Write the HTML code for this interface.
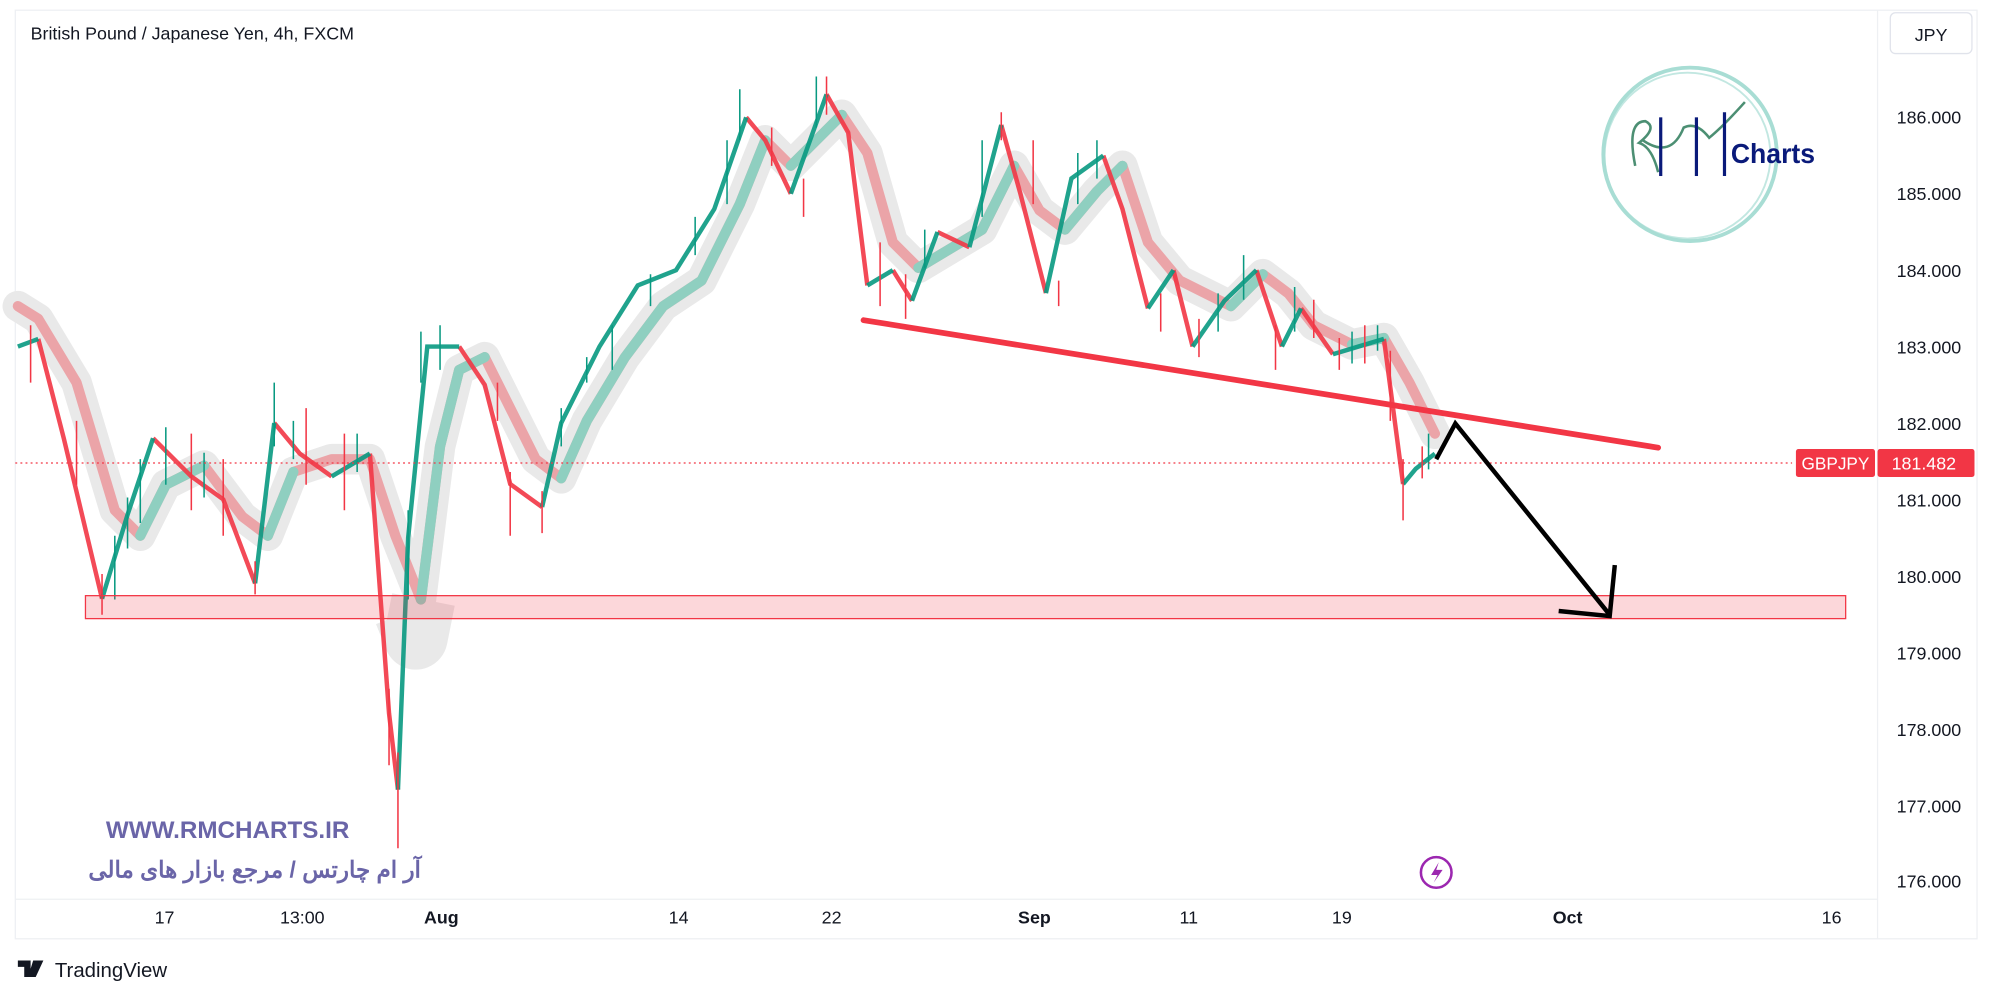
<!DOCTYPE html>
<html><head><meta charset="utf-8"><style>
html,body{margin:0;padding:0;background:#fff;width:2000px;height:1000px;overflow:hidden}
svg{display:block}
text{font-family:"Liberation Sans",sans-serif}
</style></head><body>
<svg width="2000" height="1000" viewBox="0 0 1568 784" xmlns="http://www.w3.org/2000/svg">
<rect x="0" y="0" width="1568" height="784" fill="#fff"/>
<rect x="12" y="8" width="1538" height="728" fill="#fff" stroke="#eef0f3" stroke-width="1"/>
<line x1="1472" y1="8" x2="1472" y2="736" stroke="#eef0f3"/>
<line x1="12" y1="705" x2="1472" y2="705" stroke="#eef0f3"/>
<!-- MA band -->
<polyline fill="none" stroke="#e9e9e9" stroke-width="24" stroke-linejoin="round" stroke-linecap="round" points="14,240 30,250 60,300 90,400 110,420 130,380 160,365 190,405 210,420 230,370 260,360 290,360 310,420 330,470 345,350 360,290 380,280 400,320 420,360 440,375 460,330 490,280 520,240 550,220 580,160 600,110 620,130 640,110 660,90 680,120 700,190 720,210 745,195 770,180 795,130 815,165 835,180 860,150 880,130 900,190 925,220 945,230 965,240 990,215 1010,230 1030,255 1060,270 1085,265 1105,300 1125,340"/>
<polyline fill="none" stroke="#e9e9e9" stroke-width="50" stroke-linejoin="round" points="318,480 326,500 332,470"/>
<!-- MA line -->
<polyline fill="none" stroke="#eba4a8" stroke-width="8" stroke-linejoin="round" stroke-linecap="round" points="14,240 30,250 60,300 90,400 110,420 130,380 160,365 190,405 210,420 230,370 260,360 290,360 310,420 330,470 345,350 360,290 380,280 400,320 420,360 440,375 460,330 490,280 520,240 550,220 580,160 600,110 620,130 640,110 660,90 680,120 700,190 720,210 745,195 770,180 795,130 815,165 835,180 860,150 880,130 900,190 925,220 945,230 965,240 990,215 1010,230 1030,255 1060,270 1085,265 1105,300 1125,340"/>
<g fill="none" stroke="#8fcfc0" stroke-width="8" stroke-linejoin="round" stroke-linecap="round">
<polyline points="110,420 130,380 160,365"/>
<polyline points="210,420 230,370"/>
<polyline points="330,470 345,350 360,290 380,280"/>
<polyline points="440,375 460,330 490,280 520,240 550,220 580,160 600,110"/>
<polyline points="620,130 640,110 660,90"/>
<polyline points="720,210 745,195 770,180 795,130"/>
<polyline points="835,180 860,150 880,130"/>
<polyline points="965,240 990,215"/>
<polyline points="1060,270 1085,265"/>
</g>
<!-- price (candles approximation) -->
<g stroke-linecap="butt" fill="none">
<path stroke="#f23645" stroke-width="3.5" opacity="0.9" d="M30,265.7L50,343.6L80,469.4 M120,343.6L150,373.5L175,391.5L200,457.4 M215,331.6L235,355.6L260,373.5 M290,355.6L305,559.2L312,619.1 M360,271.7L380,301.7L400,379.5L425,397.5 M585,92L600,110L620,151.9 M648,74L665,104L680,223.8 M700,211.8L715,235.8 M735,181.9L760,193.8 M785,98L800,151.9L820,229.8 M865,122L880,163.9L900,241.8 M920,211.8L935,271.7 M985,211.8L1005,271.7 M1020,241.8L1045,277.7 M1085,265.7L1100,379.5"/>
<path stroke="#089981" stroke-width="3.5" opacity="0.9" d="M14,271.7L30,265.7 M80,469.4L100,403.5L120,343.6 M200,457.4L215,331.6 M260,373.5L290,355.6 M312,619.1L320,421.5L335,271.7L360,271.7 M425,397.5L440,331.6L470,271.7L500,223.8L530,211.8L560,163.9L585,92 M620,151.9L648,74 M680,223.8L700,211.8 M715,235.8L735,181.9 M760,193.8L785,98 M820,229.8L840,139.9L865,122 M900,241.8L920,211.8 M935,271.7L960,235.8L985,211.8 M1005,271.7L1020,241.8 M1045,277.7L1065,271.7L1085,265.7 M1100,379.5L1110,367.5L1125,355.6"/>
<!-- wicks / noise -->
<path stroke="#f23645" stroke-width="1.2" d="M312,590V665 M305,540V600 M1100,360V408 M80,450V482 M200,440V466 M648,60V90 M785,88V110 M400,370V420 M425,385V418 M24,255V300 M60,330V380 M150,340V400 M175,360V420 M240,320V380 M270,340V400 M690,190V240 M710,215V250 M810,110V160 M830,220V240 M910,230V260 M940,250V280 M1000,255V290 M1030,235V265 M1050,265V290 M1070,255V285 M1090,275V330 M1115,350V375 M630,140V170 M605,100V130 M390,300V330"/>
<path stroke="#089981" stroke-width="1.2" d="M90,420V470 M110,360V410 M130,335V380 M215,300V350 M320,400V470 M330,260V300 M345,255V290 M440,320V350 M460,280V300 M480,255V290 M510,215V240 M545,170V200 M570,110V160 M580,70V110 M640,60V100 M725,180V210 M770,110V170 M845,120V160 M860,110V140 M955,230V260 M975,200V235 M1015,225V260 M1060,260V285 M1080,255V275 M1120,340V368 M100,390V430 M160,355V390 M230,330V360 M280,340V370"/>
</g>
<text x="24" y="31" font-size="14" fill="#131722">British Pound / Japanese Yen, 4h, FXCM</text>
<rect x="1482" y="10" width="64" height="32" rx="4" fill="#fff" stroke="#e0e3eb"/>
<text x="1514" y="32" font-size="14" fill="#131722" text-anchor="middle">JPY</text>
<g font-size="14" fill="#131722">
<text x="1487" y="97">186.000</text><text x="1487" y="157">185.000</text><text x="1487" y="217">184.000</text>
<text x="1487" y="277">183.000</text><text x="1487" y="337">182.000</text><text x="1487" y="397">181.000</text>
<text x="1487" y="457">180.000</text><text x="1487" y="517">179.000</text><text x="1487" y="577">178.000</text>
<text x="1487" y="637">177.000</text><text x="1487" y="696">176.000</text>
</g>
<g font-size="14" fill="#131722" text-anchor="middle">
<text x="129" y="724">17</text><text x="237" y="724">13:00</text><text x="346" y="724" font-weight="bold">Aug</text>
<text x="532" y="724">14</text><text x="652" y="724">22</text><text x="811" y="724" font-weight="bold">Sep</text>
<text x="932" y="724">11</text><text x="1052" y="724">19</text><text x="1229" y="724" font-weight="bold">Oct</text><text x="1436" y="724">16</text>
</g>
<line x1="12" y1="363" x2="1405" y2="363" stroke="#f23645" stroke-width="1" stroke-dasharray="1.5,2.5"/>
<rect x="1408" y="352" width="62" height="22" rx="2" fill="#f23645"/>
<text x="1439" y="368" font-size="13.5" fill="#fff" text-anchor="middle">GBPJPY</text>
<rect x="1472" y="352" width="76" height="22" rx="2" fill="#f23645"/>
<text x="1483" y="368" font-size="14" fill="#fff">181.482</text>
<rect x="67" y="467" width="1380" height="18" fill="rgba(242,54,69,0.2)" stroke="#f23645" stroke-width="1"/>
<line x1="677" y1="251" x2="1300" y2="351" stroke="#f23645" stroke-width="4.5" stroke-linecap="round"/>
<polyline points="1126,360 1141,332 1262,482" fill="none" stroke="#000" stroke-width="3.5"/>
<polyline points="1222,479 1262,483 1266,443" fill="none" stroke="#000" stroke-width="3.5"/>
<g fill="none" stroke="#a8ddd4">
<circle cx="1325" cy="121" r="68" stroke-width="3"/>
<circle cx="1323" cy="122" r="65" stroke-width="1.5" opacity="0.7"/>
</g>
<path d="M1282 130 Q1275 95 1290 95 Q1300 100 1285 112 Q1295 115 1300 135 M1288 110 Q1310 125 1320 100 Q1330 95 1340 108 Q1350 100 1368 80" fill="none" stroke="#4c8f73" stroke-width="2"/>
<g stroke="#0a1a7a" stroke-width="2.5"><line x1="1302" y1="92" x2="1302" y2="138"/><line x1="1330" y1="92" x2="1330" y2="138"/><line x1="1352" y1="88" x2="1352" y2="138"/></g>
<text x="1357" y="128" font-size="22" font-weight="bold" fill="#0a1a7a" textLength="66" lengthAdjust="spacingAndGlyphs">Charts</text>
<text x="83" y="657" font-size="19" font-weight="bold" fill="#6a65a8">WWW.RMCHARTS.IR</text>
<text x="330" y="688" font-size="18" font-weight="bold" fill="#6a65a8" text-anchor="end" font-family="'DejaVu Sans',sans-serif">آر ام چارتس / مرجع بازار های مالی</text>
<circle cx="1126" cy="684" r="12" fill="none" stroke="#9c27b0" stroke-width="2"/>
<path d="M1128 676 L1122 686 L1127 686 L1124 692 L1131 682 L1126 682 Z" fill="#9c27b0"/>
<path d="M14 753 h10 v13 h-5 v-8 h-5 z M26 753 h8 l-6 13 h-6 z" fill="#131722"/>
<text x="43" y="766" font-size="16" fill="#131722">TradingView</text>
</svg>
</body></html>
